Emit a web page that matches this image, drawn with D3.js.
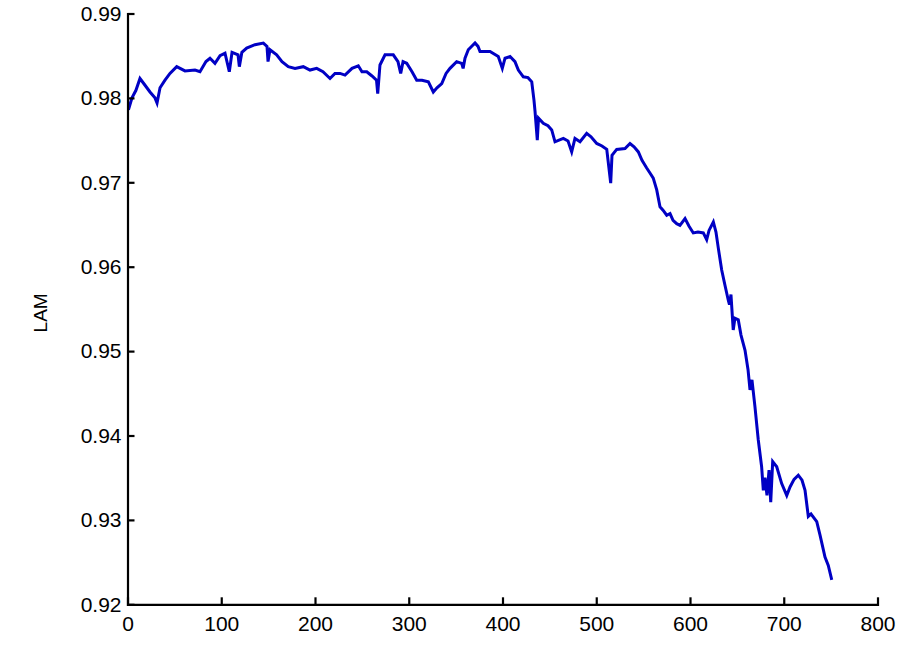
<!DOCTYPE html>
<html>
<head>
<meta charset="utf-8">
<script src="https://cdn.jsdelivr.net/npm/d3@7"></script>
<style>
  html, body { margin: 0; padding: 0; background: #fff; }
  svg { display: block; }
  .axis text { font-family: "Liberation Sans", Arial, sans-serif; font-size: 21px; fill: #000; }
  .axis path, .axis line { stroke: #000; stroke-width: 2.2; }
</style>
</head>
<body>
<svg id="chart" width="922" height="649"></svg>
<script>
// LAM recurrence measure over the time window index
const windowIndex = [
  1, 4.8, 9, 13.3, 18.7, 24, 29.3, 31.5, 34.7, 40, 45.3, 52.5, 61.3, 72, 77.3, 83.7, 88, 93.3, 98.7, 104,
  108.6, 111.5, 117.9, 119.3, 122, 127.1, 136, 144.9, 148.8, 149.9, 152, 159.1, 164.8, 171.5, 178.7, 187.5, 194.7, 201.8, 208.5, 216,
  221.3, 226.7, 232, 239.5, 246.2, 250.1, 255.2, 260.8, 265.6, 266.9, 269.3, 274.7, 283.5, 288.5, 291.4, 293.9, 297.8, 303.5, 308.5, 314.1,
  320.9, 326.2, 330.1, 335.2, 339.8, 344, 351.1, 356.5, 358, 360, 363.5, 370.7, 373.9, 376, 386.7, 395.5, 399.8, 402.7, 408, 413.3,
  416.9, 422.2, 427.2, 431.2, 433.6, 434.7, 437.1, 438.4, 443.5, 448.5, 452.5, 456, 460.3, 464.9, 469.9, 473.8, 477.3, 482.7, 489.8, 494.4,
  500.5, 506.1, 511.2, 515.4, 516.8, 521.8, 530.7, 536, 540.3, 544.9, 548.8, 553.8, 557.3, 560.8, 564.5, 568, 571.2, 575.2, 578.7, 581.9,
  585.8, 589.3, 594.7, 599, 603.5, 608.5, 614.2, 617.8, 620.3, 624.9, 627.7, 630.2, 633.8, 637.3, 640.9, 642.1, 643.7, 646.1, 647.9, 651.5,
  654.4, 658.7, 661.9, 664, 666.1, 669.3, 672.8, 676.4, 678.2, 680, 682.1, 684.3, 686.1, 688.2, 692.5, 697.8, 703.2, 706.7, 711, 715.5,
  719.5, 722.7, 726.2, 729.1, 735.2, 738.7, 744, 747.5, 751.2
];
const lamValues = [
  0.9786, 0.9800, 0.9809, 0.9823, 0.9815, 0.9807, 0.9800, 0.9794, 0.9812, 0.9821, 0.9829, 0.9837, 0.9832, 0.9833, 0.9831, 0.9843, 0.9847, 0.9841, 0.9850, 0.9853,
  0.9831, 0.9854, 0.9851, 0.9837, 0.9854, 0.9859, 0.9863, 0.9865, 0.9861, 0.9843, 0.9857, 0.9851, 0.9843, 0.9837, 0.9835, 0.9837, 0.9833, 0.9835, 0.9831, 0.9823,
  0.9829, 0.9829, 0.9827, 0.9835, 0.9838, 0.9831, 0.9831, 0.9826, 0.9821, 0.9805, 0.9839, 0.9851, 0.9851, 0.9843, 0.9829, 0.9843, 0.9841, 0.9831, 0.9821, 0.9821,
  0.9819, 0.9807, 0.9812, 0.9817, 0.9829, 0.9835, 0.9843, 0.9841, 0.9835, 0.9847, 0.9857, 0.9865, 0.9861, 0.9855, 0.9855, 0.9849, 0.9835, 0.9847, 0.9849, 0.9843,
  0.9833, 0.9825, 0.9824, 0.9819, 0.9797, 0.9784, 0.9750, 0.9776, 0.9770, 0.9767, 0.9762, 0.9748, 0.9750, 0.9752, 0.9749, 0.9736, 0.9752, 0.9748, 0.9758, 0.9754,
  0.9746, 0.9743, 0.9739, 0.9699, 0.9732, 0.9739, 0.9740, 0.9746, 0.9742, 0.9736, 0.9726, 0.9717, 0.9711, 0.9705, 0.9691, 0.9671, 0.9667, 0.9661, 0.9663, 0.9655,
  0.9651, 0.9649, 0.9657, 0.9648, 0.9640, 0.9641, 0.9640, 0.9632, 0.9643, 0.9653, 0.9641, 0.9622, 0.9596, 0.9578, 0.9560, 0.9555, 0.9567, 0.9525, 0.9539, 0.9537,
  0.9519, 0.9501, 0.9478, 0.9454, 0.9466, 0.9434, 0.9395, 0.9363, 0.9335, 0.9350, 0.9329, 0.9359, 0.9321, 0.9369, 0.9363, 0.9343, 0.9329, 0.9339, 0.9348, 0.9353,
  0.9347, 0.9335, 0.9304, 0.9307, 0.9298, 0.9282, 0.9256, 0.9246, 0.9229
];
const xTicks = [0, 100, 200, 300, 400, 500, 600, 700, 800];
const yTicks = [0.92, 0.93, 0.94, 0.95, 0.96, 0.97, 0.98, 0.99];
const yTitle = "LAM";

const width = 922, height = 649;
const margin = { top: 13.5, right: 44.5, bottom: 44.7, left: 127.5 };

const svg = d3.select("#chart");

const x = d3.scaleLinear().domain([0, 800]).range([margin.left, width - margin.right]);
const y = d3.scaleLinear().domain([0.92, 0.99]).range([height - margin.bottom, margin.top]);

const series = windowIndex.map((v, i) => ({ x: v, y: lamValues[i] }));

const line = d3.line().x(d => x(d.x)).y(d => y(d.y));

svg.append("path")
  .datum(series)
  .attr("fill", "none")
  .attr("stroke", "#0000c4")
  .attr("stroke-width", 3)
  .attr("stroke-linejoin", "miter")
  .attr("d", line);

// Axes with inward-pointing ticks
svg.append("g")
  .attr("class", "axis")
  .attr("transform", `translate(0,${height - margin.bottom})`)
  .call(d3.axisBottom(x).tickValues(xTicks).tickFormat(d3.format("d"))
    .tickSizeInner(-7).tickSizeOuter(0).tickPadding(12));

svg.append("g")
  .attr("class", "axis")
  .attr("transform", `translate(${margin.left},0)`)
  .call(d3.axisLeft(y).tickValues(yTicks).tickFormat(d3.format(".2f"))
    .tickSizeInner(-7).tickSizeOuter(0).tickPadding(6));

svg.selectAll(".axis .domain").attr("stroke-linecap", "square");

svg.append("text")
  .attr("transform", `translate(47,${(margin.top + height - margin.bottom) / 2 + 4}) rotate(-90)`)
  .attr("text-anchor", "middle")
  .attr("font-family", "Liberation Sans, Arial, sans-serif")
  .attr("font-size", 19)
  .attr("fill", "#000")
  .text(yTitle);
</script>
</body>
</html>
